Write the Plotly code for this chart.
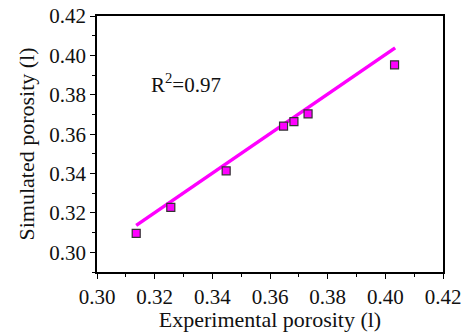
import plotly.graph_objects as go

# Measured vs. simulated porosity
experimental = [0.3136, 0.3256, 0.3448, 0.3647, 0.3683, 0.3732, 0.4032]
simulated = [0.3096, 0.3228, 0.3414, 0.3641, 0.3664, 0.3703, 0.3952]

# Linear fit endpoints
fit_x = [0.3136, 0.4034]
fit_y = [0.3137, 0.4038]

FONT = "Liberation Serif"
MAGENTA = "#FF00FF"
INK = "#111111"

fig = go.Figure()
fig.add_trace(go.Scatter(
    x=fit_x, y=fit_y, mode="lines",
    line=dict(color=MAGENTA, width=3.5),
    showlegend=False, hoverinfo="skip",
))
fig.add_trace(go.Scatter(
    x=experimental, y=simulated, mode="markers",
    marker=dict(symbol="square", size=8, color=MAGENTA,
                line=dict(color="#333333", width=1.2)),
    showlegend=False,
))

fig.add_annotation(
    x=0.3182, y=0.3859, xref="x", yref="y",
    text="R<sup>2</sup>=0.97", showarrow=False, xanchor="left",
    font=dict(family=FONT, size=21, color=INK),
)

axis_style = dict(
    showgrid=False, zeroline=False, automargin=False,
    showline=True, linecolor="black", linewidth=1.6, mirror=True,
    ticks="outside", ticklen=5, tickwidth=1.4, tickcolor="black",
    tickfont=dict(family=FONT, size=21, color=INK),
    minor=dict(ticks="outside", ticklen=3, tickwidth=1.2, tickcolor="black", dtick=0.01),
)

fig.update_layout(
    width=466, height=332,
    margin=dict(l=97, r=23, t=16, b=60),
    paper_bgcolor="white", plot_bgcolor="white",
    font=dict(family=FONT, color=INK, size=21),
    xaxis=dict(
        range=[0.30, 0.42], tick0=0.30, dtick=0.02, tickformat=".2f",
        title=dict(text="Experimental porosity (l)", font=dict(family=FONT, size=22, color=INK), standoff=0),
        **axis_style,
    ),
    yaxis=dict(
        range=[0.29, 0.42], tick0=0.30, dtick=0.02, tickformat=".2f",
        title=dict(text="Simulated porosity (l)", font=dict(family=FONT, size=22, color=INK), standoff=9),
        **axis_style,
    ),
)

fig.write_html("out.html")
